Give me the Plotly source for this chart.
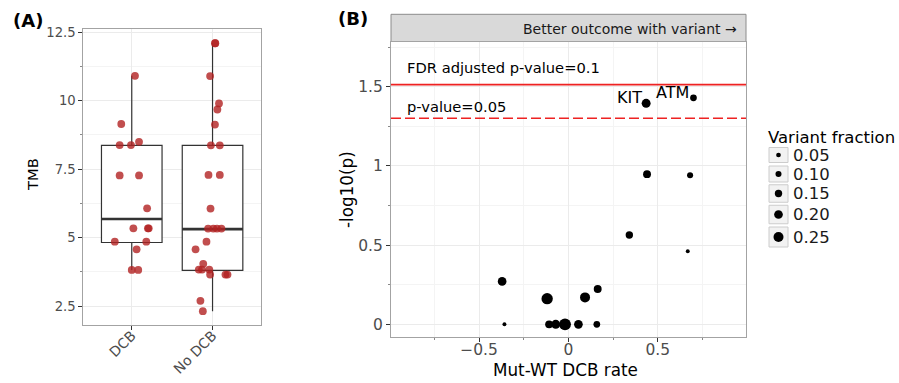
import plotly.graph_objects as go

W, H = 899, 383
FONT = "DejaVu Sans"

# ---------------- Panel A data ----------------
groups = ["DCB", "No DCB"]
group_pos = [1, 2]
dcb_tmb = [10.91, 9.15, 8.38, 8.38, 8.50, 7.27, 7.27, 6.07, 5.34, 5.34, 5.34,
           4.85, 4.85, 4.57, 3.82, 3.82]
dcb_jitter = [0.04, -0.13, -0.15, -0.01, 0.09, -0.15, 0.09, 0.19, 0.02, 0.20,
              0.21, -0.21, 0.18, 0.06, 0.00, 0.08]
nodcb_tmb = [12.10, 12.10, 10.90, 9.90, 9.68, 9.13, 8.37, 8.37, 7.29, 7.29, 6.06,
             5.33, 5.33, 5.33, 5.33, 4.85, 4.57, 4.04, 3.83, 3.83, 3.83,
             3.65, 3.65, 3.65, 2.69, 2.31]
nodcb_jitter = [0.03, 0.035, -0.03, 0.08, 0.06, 0.03, -0.02, 0.09, -0.05, 0.09, -0.025,
                -0.055, 0.01, 0.055, 0.11, -0.075, -0.21, -0.115, -0.17, -0.13, -0.04,
                -0.03, 0.16, 0.185, -0.15, -0.12]
box_q1 = [4.82, 3.80]
box_median = [5.68, 5.31]
box_q3 = [8.37, 8.37]
box_lower = [3.82, 2.31]
box_upper = [10.91, 12.10]
tmb_ticks = [2.5, 5, 7.5, 10, 12.5]

# ---------------- Panel B data ----------------
dcb_rate_diff = [0.435, 0.700, 0.440, 0.681, 0.341, 0.668, -0.371, -0.119, 0.093,
                 0.164, -0.358, -0.108, -0.071, -0.019, 0.056, 0.159]
neg_log10_p = [1.395, 1.430, 0.948, 0.941, 0.564, 0.461, 0.271, 0.162, 0.170,
               0.223, 0.0, 0.0, 0.0, 0.0, 0.0, 0.0]
variant_fraction = [0.21, 0.125, 0.17, 0.10, 0.15, 0.02, 0.20, 0.30, 0.25,
                    0.17, 0.02, 0.17, 0.21, 0.32, 0.20, 0.125]
gene_labels = ["KIT", "ATM"] + [""] * 14
fdr_line = 1.513
p_line = 1.301
size_breaks = [0.05, 0.10, 0.15, 0.20, 0.25]
size_labels = ["0.05", "0.10", "0.15", "0.20", "0.25"]
rate_ticks = [-0.5, 0, 0.5]
logp_ticks = [0, 0.5, 1, 1.5]


def dot_px(f):
    return 3.4 + 26.5 * f


def px(x):
    return x / W


def py(y):
    return 1 - y / H


BOX_W = 0.75
fig = go.Figure()

# Panel A: boxes
fig.add_trace(go.Box(
    x=group_pos, q1=box_q1, median=box_median, q3=box_q3,
    lowerfence=box_lower, upperfence=box_upper,
    width=BOX_W, whiskerwidth=0, fillcolor="white",
    line=dict(color="#333333", width=1.2), boxpoints=False,
    xaxis="x", yaxis="y", showlegend=False, hoverinfo="skip"))
# thick medians
mx, my = [], []
for p, m in zip(group_pos, box_median):
    mx += [p - BOX_W / 2, p + BOX_W / 2, None]
    my += [m, m, None]
fig.add_trace(go.Scatter(x=mx, y=my, mode="lines", line=dict(color="#333333", width=2.6),
                         xaxis="x", yaxis="y", showlegend=False, hoverinfo="skip"))
# jittered points
ptx = [group_pos[0] + j for j in dcb_jitter] + [group_pos[1] + j for j in nodcb_jitter]
pty = dcb_tmb + nodcb_tmb
fig.add_trace(go.Scatter(x=ptx, y=pty, mode="markers",
                         marker=dict(size=7.8, color="rgba(178,34,34,0.8)", line=dict(width=0)),
                         xaxis="x", yaxis="y", showlegend=False, hoverinfo="skip"))

# Panel B: scatter
fig.add_trace(go.Scatter(x=dcb_rate_diff, y=neg_log10_p, mode="markers",
                         marker=dict(size=[dot_px(f) for f in variant_fraction], color="black",
                                     opacity=1, line=dict(width=0)),
                         xaxis="x2", yaxis="y2", showlegend=False, hoverinfo="skip"))

# Legend dots (pixel-coordinate overlay axis)
key_cy = [155, 174, 193.5, 214.5, 237]
key_h = [15, 16, 17.5, 18.5, 20]
key_x0, key_x1 = 769, 788
fig.add_trace(go.Scatter(x=[(key_x0 + key_x1) / 2] * len(size_breaks), y=key_cy, mode="markers",
                         marker=dict(size=[dot_px(f) for f in size_breaks], color="black",
                                     opacity=1, line=dict(width=0)),
                         xaxis="x3", yaxis="y3", showlegend=False, hoverinfo="skip"))

grid = "#ebebeb"
frame = "#a3a3a3"
tickfont = dict(family=FONT, size=13.2, color="#4d4d4d")
tickfontAx = dict(family=FONT, size=14, color="#4d4d4d")
tickfontB = dict(family=FONT, size=15.5, color="#4d4d4d")

layout = dict(
    width=W, height=H, margin=dict(l=0, r=0, t=0, b=0, autoexpand=False),
    paper_bgcolor="white", plot_bgcolor="rgba(0,0,0,0)",
    showlegend=False,
    font=dict(family=FONT),
    xaxis=dict(domain=[px(83.3), px(261)], range=[0.4, 2.6], tickvals=group_pos, ticktext=groups,
               tickangle=-45, tickfont=tickfontAx, showgrid=True, gridcolor=grid, gridwidth=1.1,
               zeroline=False, showline=True, mirror=True, linecolor=frame, linewidth=1,
               ticks="outside", ticklen=4, tickcolor="#333333", anchor="y", fixedrange=True,
               automargin=False, ticklabelstandoff=-8),
    yaxis=dict(domain=[py(325), py(29.3)], range=[1.806, 12.61], tickvals=tmb_ticks,
               tickfont=tickfont, showgrid=True, gridcolor=grid, gridwidth=1.1,
               minor=dict(dtick=1.25, showgrid=True, gridcolor="#f4f4f4", gridwidth=0.6,
                          ticks="outside", ticklen=2, tickcolor="#888888"),
               zeroline=False, showline=True, mirror=True, linecolor=frame, linewidth=1,
               ticks="outside", ticklen=4, tickcolor="#333333", anchor="x", fixedrange=True,
               automargin=False),
    xaxis2=dict(domain=[px(391), px(746)], range=[-0.993, 0.994], tickvals=rate_ticks,
                tickfont=tickfontB, showgrid=True, gridcolor=grid, gridwidth=1.1,
                minor=dict(dtick=0.25, tick0=0, showgrid=True, gridcolor="#f4f4f4", gridwidth=0.6,
                           ticks="outside", ticklen=2, tickcolor="#888888"),
                zeroline=False, showline=True, mirror=True, linecolor=frame, linewidth=1,
                ticks="outside", ticklen=4, tickcolor="#333333", anchor="y2", fixedrange=True,
                automargin=False, ticklabelstandoff=-5),
    yaxis2=dict(domain=[py(336.7), py(42)], range=[-0.078, 1.782], tickvals=logp_ticks,
                tickfont=tickfontB, showgrid=True, gridcolor=grid, gridwidth=1.1,
                minor=dict(dtick=0.25, tick0=0, showgrid=True, gridcolor="#f4f4f4", gridwidth=0.6,
                           ticks="outside", ticklen=2, tickcolor="#888888"),
                zeroline=False, showline=True, mirror=True, linecolor=frame, linewidth=1,
                ticks="outside", ticklen=4, tickcolor="#333333", anchor="x2", fixedrange=True,
                automargin=False),
    xaxis3=dict(domain=[0, 1], range=[0, W], visible=False, anchor="y3", fixedrange=True,
                automargin=False),
    yaxis3=dict(domain=[0, 1], range=[H, 0], visible=False, anchor="x3", fixedrange=True,
                automargin=False),
)
fig.update_layout(**layout)

shapes = []
# threshold lines
shapes.append(dict(type="line", xref="x2 domain", yref="y2", x0=0, x1=1, y0=fdr_line, y1=fdr_line,
                   line=dict(color="#ee2222", width=1.6)))
shapes.append(dict(type="line", xref="x2 domain", yref="y2", x0=0, x1=1, y0=p_line, y1=p_line,
                   line=dict(color="#ee2222", width=1.6, dash="10px,4px")))
# strip
shapes.append(dict(type="rect", xref="paper", yref="paper", x0=px(391), x1=px(746),
                   y0=py(41.5), y1=py(14.3), fillcolor="#d9d9d9",
                   line=dict(color="#8c8c8c", width=1), layer="below"))
# legend keys
for cy, h in zip(key_cy, key_h):
    shapes.append(dict(type="rect", xref="paper", yref="paper", x0=px(key_x0), x1=px(key_x1),
                       y0=py(cy + h / 2), y1=py(cy - h / 2), fillcolor="#f2f2f2",
                       line=dict(color="#cccccc", width=1), layer="below"))

annotations = []


def ann(text, x, y, size, xanchor="center", yanchor="middle", angle=0, color="black",
        xref="paper", yref="paper", **kw):
    annotations.append(dict(text=text, x=x, y=y, xref=xref, yref=yref, showarrow=False,
                            xanchor=xanchor, yanchor=yanchor, textangle=angle,
                            font=dict(family=FONT, size=size, color=color), **kw))


ann("<b>(A)</b>", px(28), py(20), 18)
ann("<b>(B)</b>", px(353), py(18), 18)
ann("TMB", px(33), py(175), 14.7, angle=-90)
ann("-log10(p)", px(347), py(190), 16.8, angle=-90)
ann("Mut-WT DCB rate", px(565), py(370), 16.8)
ann("Better outcome with variant \u2192", px(739), py(29), 14, xanchor="right", color="#1a1a1a")
ann("FDR adjusted p-value=0.1", -0.912, 1.62, 14.7, xanchor="left", xref="x2", yref="y2")
ann("p-value=0.05", -0.912, 1.378, 14.7, xanchor="left", xref="x2", yref="y2")
for gx, gy, g in zip(dcb_rate_diff, neg_log10_p, gene_labels):
    if g:
        ann(g, gx, gy, 16, xanchor="right", xref="x2", yref="y2", xshift=-2.5, yshift=5.5)
ann("Variant fraction", px(766), py(137), 16.5, xanchor="left")
for cy, lab in zip(key_cy, size_labels):
    ann(lab, px(791), py(cy), 16.5, xanchor="left", color="#1a1a1a")

fig.update_layout(shapes=shapes, annotations=annotations)
fig.write_html("out.html", config={"displayModeBar": False},
               post_script="document.body.style.margin='0';document.body.style.padding='0';"
                           "document.body.style.overflow='hidden';")
